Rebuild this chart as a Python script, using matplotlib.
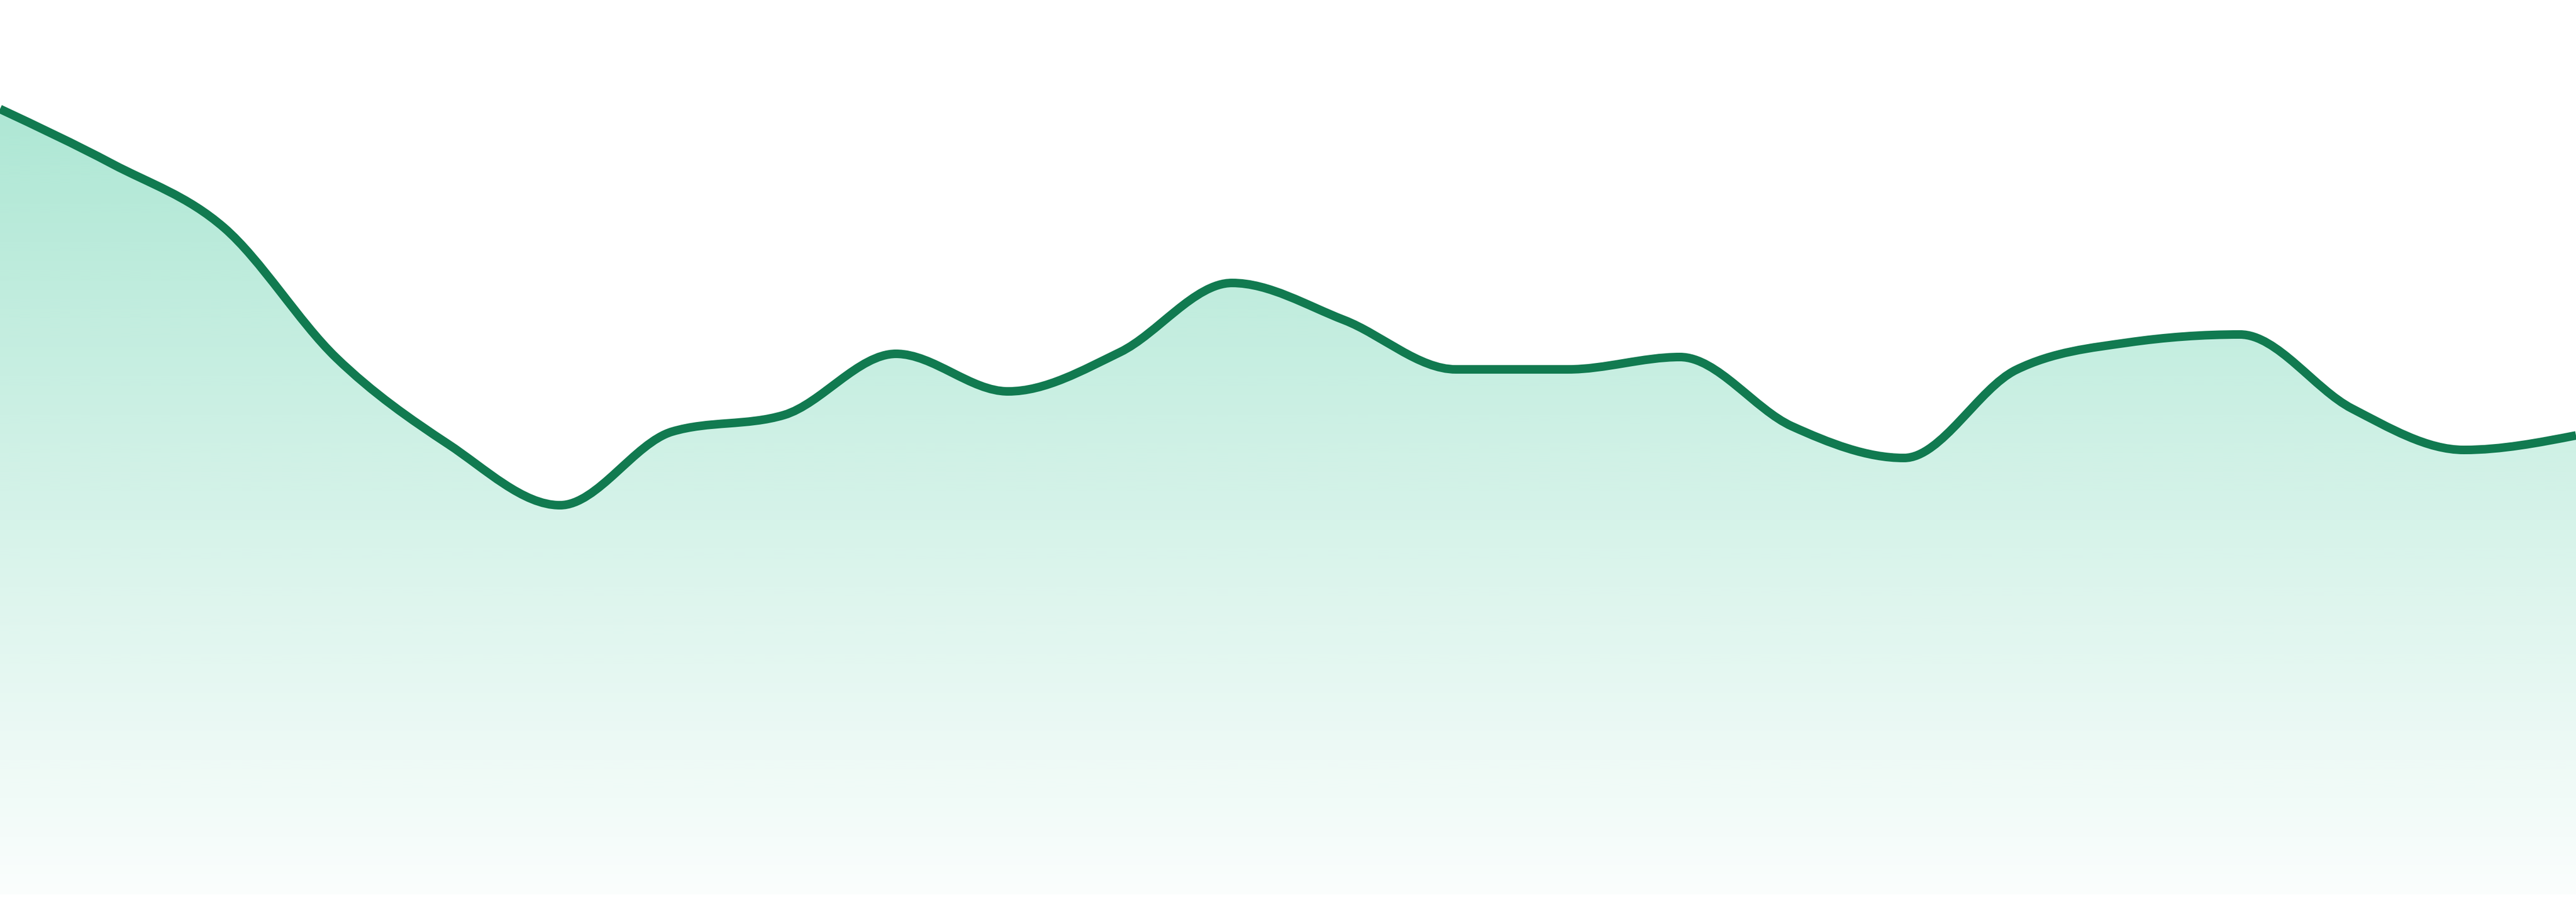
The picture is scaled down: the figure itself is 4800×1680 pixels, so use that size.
import numpy as np
import matplotlib
matplotlib.use("Agg")
import matplotlib.pyplot as plt
from matplotlib.path import Path
from matplotlib.patches import PathPatch
from matplotlib.colors import to_rgb

# --- data (arbitrary units) ---
steps = list(range(24))
values = [146.3, 136.1, 124.2, 100.0, 83.9, 72.5, 86.2, 89.3, 100.7, 93.7,
          101.0, 113.9, 107.0, 97.8, 97.8, 100.1, 87.2, 81.3, 97.7, 102.8,
          104.3, 90.5, 82.8, 85.5]

line_color = "#117a50"
fill_color = "#10b981"


def monotone_tangents(x, y):
    # same slopes as d3.curveMonotoneX
    x = np.asarray(x, float)
    y = np.asarray(y, float)
    n = len(x)
    t = np.zeros(n)
    for i in range(1, n - 1):
        h0 = x[i] - x[i - 1]
        h1 = x[i + 1] - x[i]
        s0 = (y[i] - y[i - 1]) / h0
        s1 = (y[i + 1] - y[i]) / h1
        p = (s0 * h1 + s1 * h0) / (h0 + h1)
        t[i] = (np.sign(s0) + np.sign(s1)) * min(abs(s0), abs(s1), 0.5 * abs(p))
    h = x[1] - x[0]
    t[0] = (3 * (y[1] - y[0]) / h - t[1]) / 2
    h = x[-1] - x[-2]
    t[-1] = (3 * (y[-1] - y[-2]) / h - t[-2]) / 2
    return t


def curve_verts(x, y):
    t = monotone_tangents(x, y)
    verts = [(x[0], y[0])]
    codes = [Path.MOVETO]
    for i in range(len(x) - 1):
        dx = (x[i + 1] - x[i]) / 3
        verts += [(x[i] + dx, y[i] + dx * t[i]),
                  (x[i + 1] - dx, y[i + 1] - dx * t[i + 1]),
                  (x[i + 1], y[i + 1])]
        codes += [Path.CURVE4] * 3
    return verts, codes


fig = plt.figure(figsize=(48, 16.8), dpi=100)
ax = fig.add_axes([0, 0, 1, 1])
ax.set_xlim(steps[0], steps[-1])
ax.set_ylim(-1.4, 166.6)
ax.axis("off")

verts, codes = curve_verts(steps, values)

# area under the curve, filled with a vertical fade
area_path = Path(verts + [(steps[-1], 0), (steps[0], 0), (steps[0], 0)],
                 codes + [Path.LINETO, Path.LINETO, Path.CLOSEPOLY])
area = PathPatch(area_path, facecolor="none", edgecolor="none")
ax.add_patch(area)

grad = np.zeros((256, 1, 4))
grad[:, 0, :3] = to_rgb(fill_color)
grad[:, 0, 3] = np.linspace(0.02, 0.34, 256)
img = ax.imshow(grad, extent=[steps[0], steps[-1], 0, max(values)],
                origin="lower", aspect="auto", interpolation="bilinear")
img.set_clip_path(area)

line = PathPatch(Path(verts, codes), facecolor="none", edgecolor=line_color,
                 lw=11.5, joinstyle="round", capstyle="butt")
ax.add_patch(line)

fig.savefig("out.png", dpi=100, facecolor="white")
